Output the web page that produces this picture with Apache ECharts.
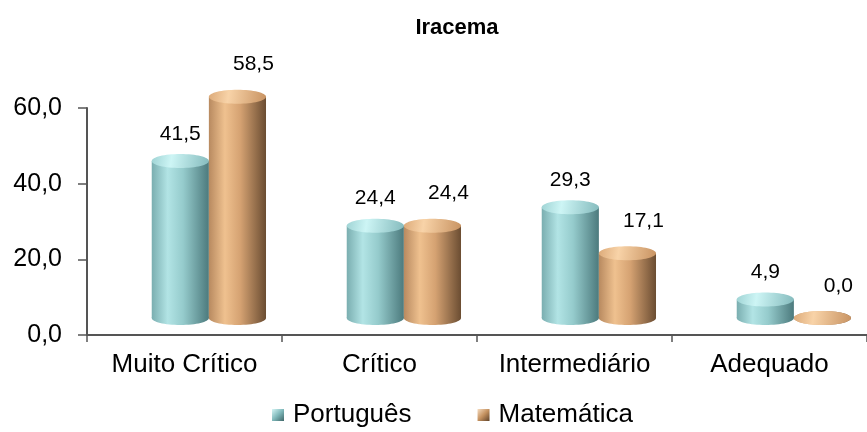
<!DOCTYPE html>
<html>
<head>
<meta charset="utf-8">
<script src="https://cdn.jsdelivr.net/npm/echarts@6/dist/echarts.min.js"></script>
<style>
  html, body { margin: 0; padding: 0; background: #fff; }
  #chart { width: 867px; height: 432px; }
</style>
</head>
<body>
<div id="chart"></div>
<script>
// Chart content
const titleText = 'Iracema';
const categories = ['Muito Crítico', 'Crítico', 'Intermediário', 'Adequado'];
const seriesNames = ['Português', 'Matemática'];
const portugues = [41.5, 24.4, 29.3, 4.9];
const matematica = [58.5, 24.4, 17.1, 0.0];
const yTicks = [0, 20, 40, 60];

const FONT = "'Liberation Sans', Arial, sans-serif";
const fmt = v => v.toFixed(1).replace('.', ',');

// Shading for each cylinder: body gradient left->right, top cap gradient
const palettes = [
  {
    body: [[0, '#7aaeb0'], [0.28, '#b2e4e5'], [0.55, '#95cbcc'], [1, '#4c7a7d']],
    cap:  [[0, '#9fd3d4'], [0.35, '#cdf5f5'], [1, '#86bcbe']],
    legend: [[0, '#d6f6f6'], [0.5, '#7fb8ba'], [1, '#3f6668']],
    labelDx: 0, labelDy: -44
  },
  {
    body: [[0, '#b88a60'], [0.28, '#efc18f'], [0.55, '#d5a272'], [1, '#6b4d32']],
    cap:  [[0, '#dcaa79'], [0.35, '#f8d3a8'], [1, '#c99463']],
    legend: [[0, '#f6dcc0'], [0.5, '#c4915f'], [1, '#5e4229']],
    labelDx: 16, labelDy: -49
  }
];

const grad = (stops, x2, y2) => new echarts.graphic.LinearGradient(0, 0, x2, y2,
  stops.map(s => ({ offset: s[0], color: s[1] })));

// Draws one cylinder per data point, placed with the 3D depth shift of the floor
function makeRenderer(seriesIdx) {
  const pal = palettes[seriesIdx];
  const side = seriesIdx === 0 ? -1 : 1;
  return function (params, api) {
    const cat = api.value(0);
    const val = api.value(1);
    const base = api.coord([cat, 0]);
    const top = api.coord([cat, val]);
    const band = api.size([1, 0])[0];
    const w = band * 0.293;
    const dx = band * 0.125;
    const dy = -17;
    const ry = 7;
    const cx = base[0] + dx + side * w / 2;
    const yBase = base[1] + dy;
    const yTop = top[1] + dy;
    const children = [
      { type: 'ellipse', shape: { cx: cx, cy: yBase, rx: w / 2, ry: ry },
        style: { fill: grad(pal.body, 1, 0) } },
      { type: 'rect', shape: { x: cx - w / 2, y: yTop, width: w, height: Math.max(yBase - yTop, 0) },
        style: { fill: grad(pal.body, 1, 0) } },
      { type: 'ellipse', shape: { cx: cx, cy: yTop, rx: w / 2, ry: ry },
        style: { fill: grad(pal.cap, 1, 0.6) } },
      { type: 'text',
        style: { text: fmt(val), x: cx + pal.labelDx, y: top[1] + pal.labelDy,
                 align: 'center', verticalAlign: 'middle',
                 font: '21px ' + FONT, fill: '#000' } }
    ];
    return { type: 'group', children: children };
  };
}

const chart = echarts.init(document.getElementById('chart'), null, { renderer: 'canvas' });

const seriesData = [portugues, matematica];

chart.setOption({
  animation: false,
  backgroundColor: '#fff',
  title: {
    text: titleText,
    left: 452,
    top: 12,
    textAlign: 'center',
    textStyle: { fontFamily: FONT, fontWeight: 'bold', fontSize: 22, color: '#000' }
  },
  legend: {
    data: seriesNames,
    left: 272,
    top: 402,
    padding: 0,
    itemGap: 66,
    itemWidth: 12,
    itemHeight: 12,
    icon: 'rect',
    textStyle: { fontFamily: FONT, fontSize: 26, color: '#000', padding: [0, 0, 0, 4] }
  },
  grid: { left: 87, top: 108, width: 784, height: 227 },
  xAxis: {
    type: 'category',
    data: categories,
    axisLine: { lineStyle: { color: '#555', width: 2 } },
    axisTick: { show: true, interval: 0, length: 7, lineStyle: { color: '#555', width: 1.5 } },
    axisLabel: { interval: 0, hideOverlap: false, fontFamily: FONT, fontSize: 26, color: '#000', margin: 17 }
  },
  yAxis: {
    type: 'value',
    min: yTicks[0],
    max: yTicks[yTicks.length - 1],
    interval: yTicks[1] - yTicks[0],
    splitLine: { show: false },
    axisLine: { show: true, lineStyle: { color: '#555', width: 2 } },
    axisTick: { show: true, length: 9, lineStyle: { color: '#555', width: 1.5 } },
    axisLabel: { fontFamily: FONT, fontSize: 25, color: '#000', margin: 25,
                 formatter: v => fmt(v) }
  },
  series: seriesNames.map((name, i) => ({
    name: name,
    type: 'custom',
    renderItem: makeRenderer(i),
    itemStyle: { color: grad(palettes[i].legend, 1, 1) },
    encode: { x: 0, y: 1 },
    data: seriesData[i].map((v, k) => [k, v]),
    z: 3 + i
  }))
});
</script>
</body>
</html>
